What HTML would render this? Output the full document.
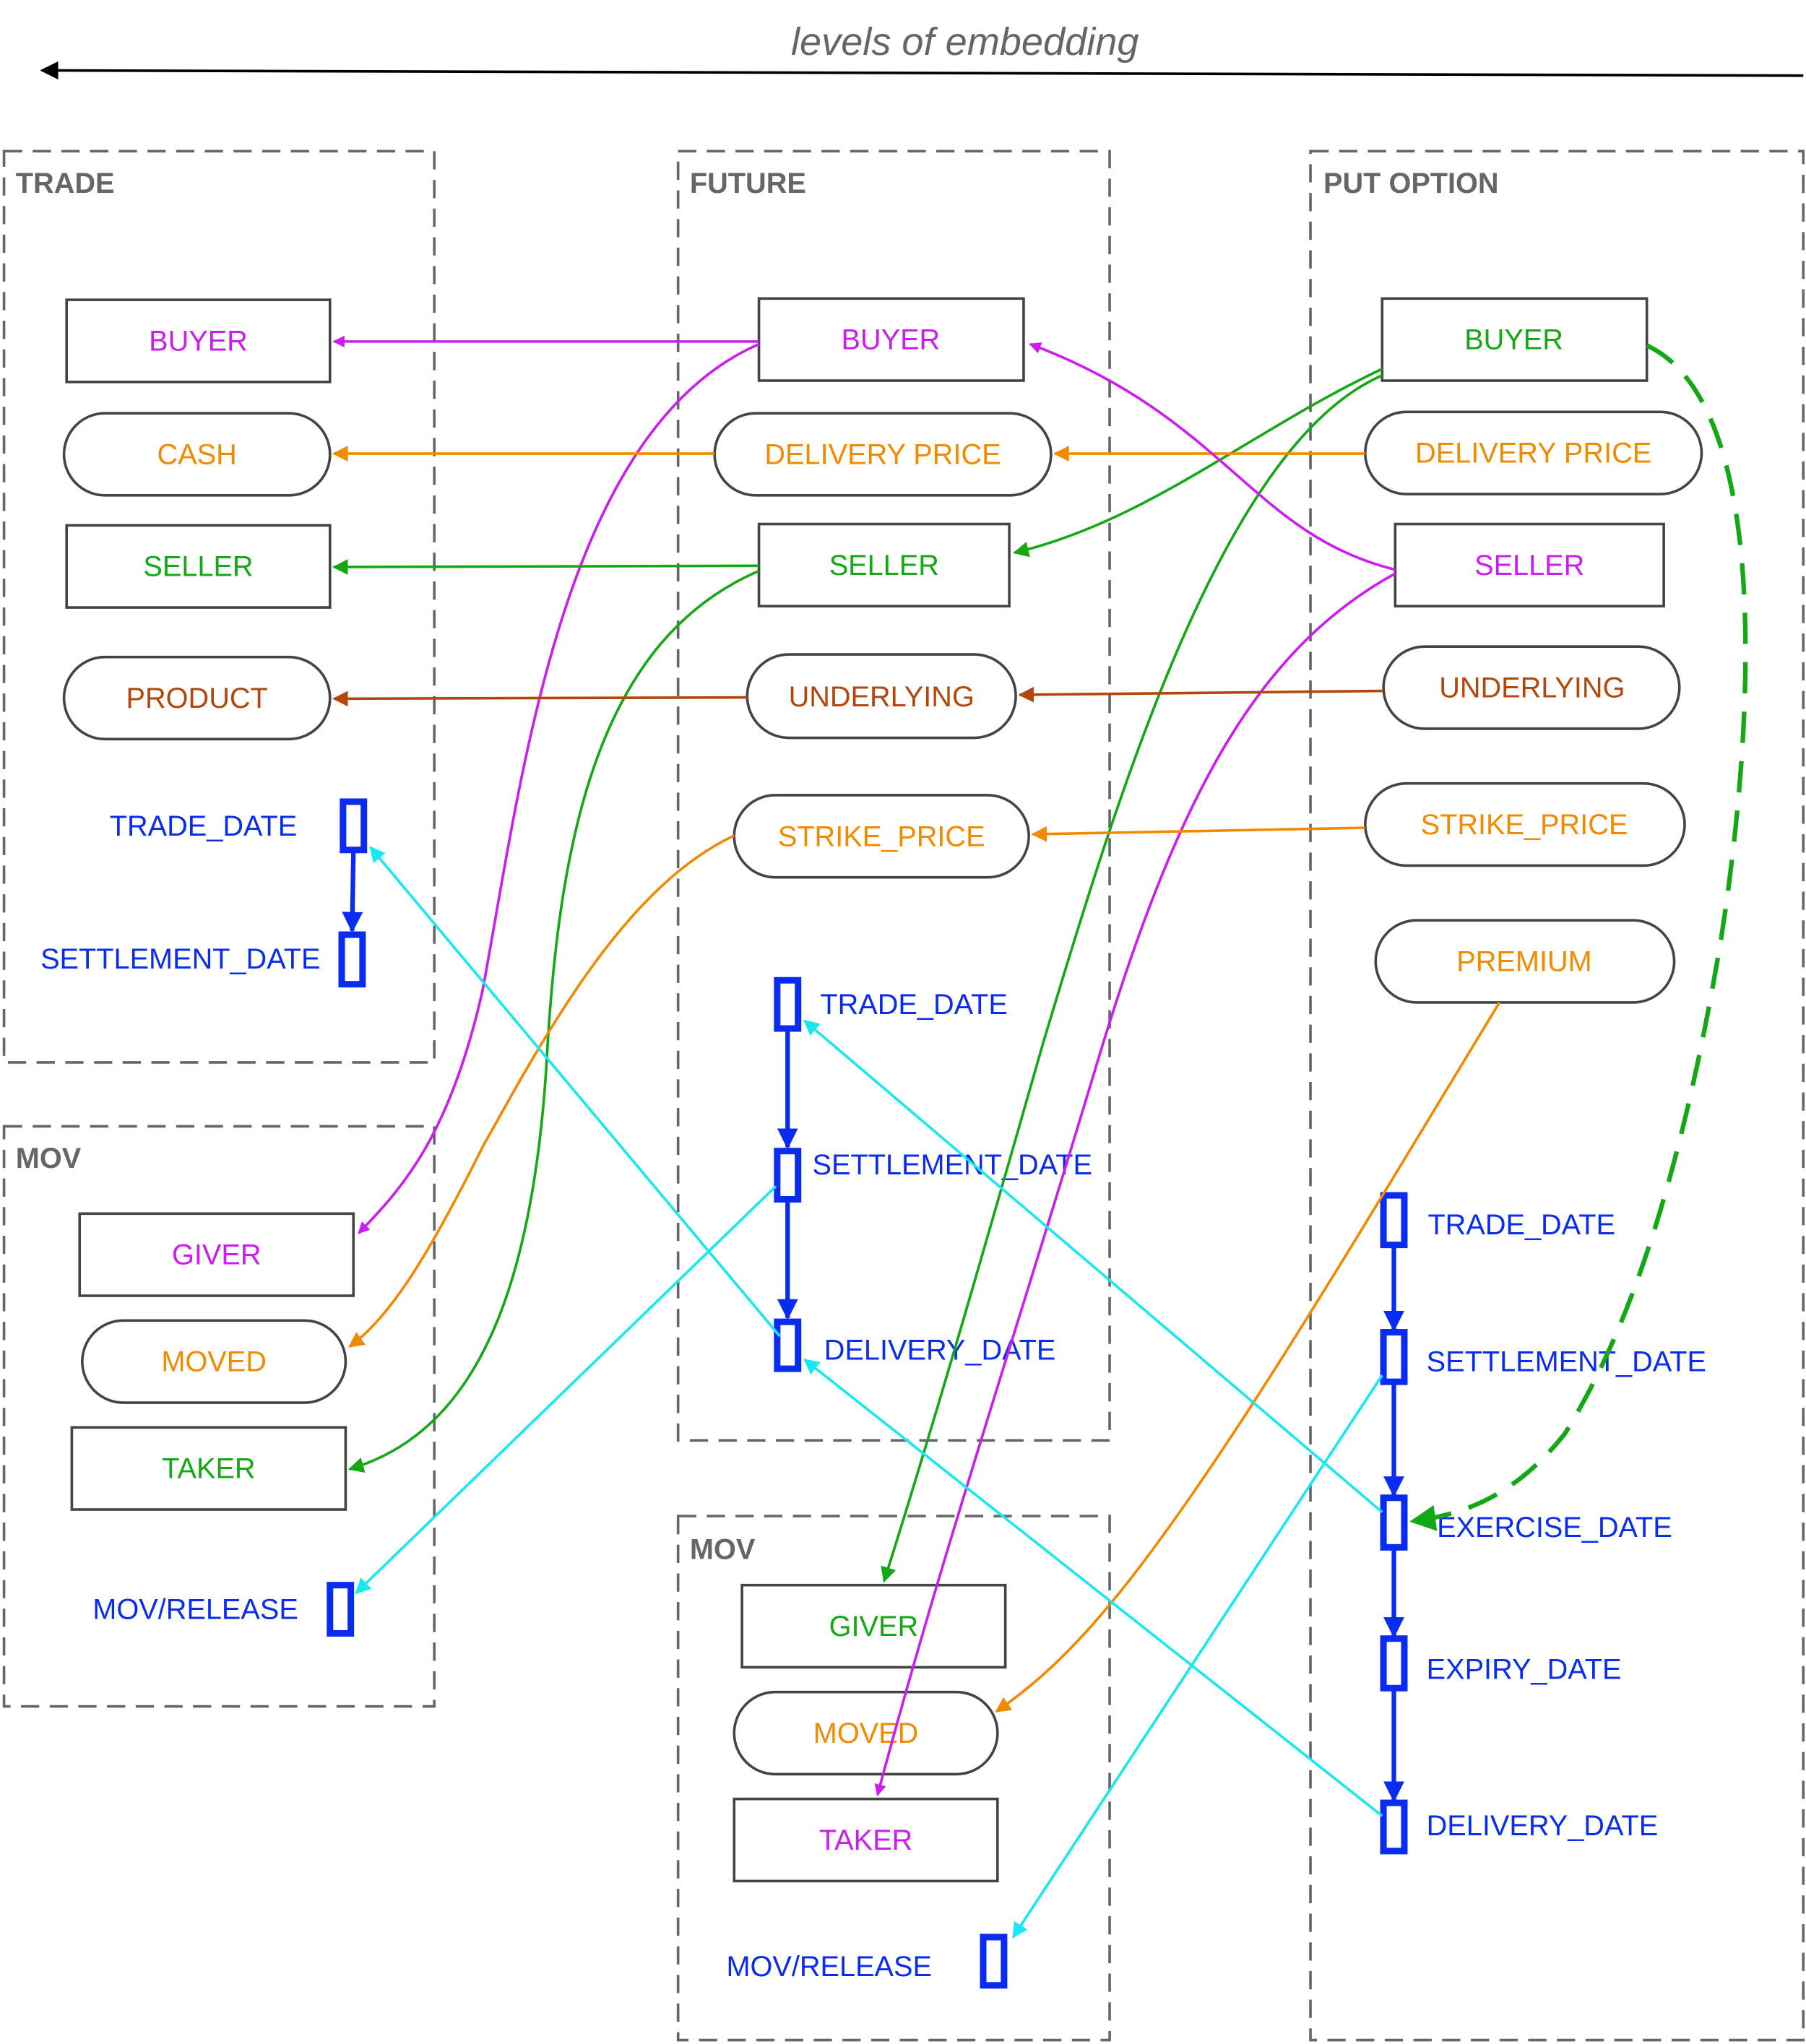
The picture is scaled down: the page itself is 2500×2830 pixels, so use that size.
<!DOCTYPE html>
<html><head><meta charset="utf-8"><style>
html,body{margin:0;padding:0;background:#fff;}
svg{display:block;}
text{font-family:"Liberation Sans",sans-serif;}
</style></head><body>
<svg width="2500" height="2830" viewBox="0 0 1385 1568" xmlns="http://www.w3.org/2000/svg">
<defs>
<marker id="mk" viewBox="0 0 10 10" refX="9" refY="5" markerWidth="7" markerHeight="7" orient="auto"><path d="M0,0 L10,5 L0,10 z" fill="#000"/></marker>
<marker id="mm" viewBox="0 0 10 10" refX="9" refY="5" markerWidth="9" markerHeight="9" orient="auto" markerUnits="userSpaceOnUse"><path d="M0,0 L10,5 L0,10 z" fill="#cc1cf0"/></marker>
<marker id="mo" viewBox="0 0 10 10" refX="9" refY="5" markerWidth="12" markerHeight="12" orient="auto" markerUnits="userSpaceOnUse"><path d="M0,0 L10,5 L0,10 z" fill="#f28a00"/></marker>
<marker id="mg" viewBox="0 0 10 10" refX="9" refY="5" markerWidth="12" markerHeight="12" orient="auto" markerUnits="userSpaceOnUse"><path d="M0,0 L10,5 L0,10 z" fill="#14a814"/></marker>
<marker id="mg2" viewBox="0 0 10 10" refX="9" refY="5" markerWidth="20" markerHeight="20" orient="auto" markerUnits="userSpaceOnUse"><path d="M0,0 L10,5 L0,10 z" fill="#14a814"/></marker>
<marker id="mb" viewBox="0 0 10 10" refX="9" refY="5" markerWidth="12" markerHeight="12" orient="auto" markerUnits="userSpaceOnUse"><path d="M0,0 L10,5 L0,10 z" fill="#b5460b"/></marker>
<marker id="mc" viewBox="0 0 10 10" refX="9" refY="5" markerWidth="12" markerHeight="12" orient="auto" markerUnits="userSpaceOnUse"><path d="M0,0 L10,5 L0,10 z" fill="#18e8f0"/></marker>
<marker id="mbl" viewBox="0 0 10 10" refX="9" refY="5" markerWidth="16" markerHeight="16" orient="auto" markerUnits="userSpaceOnUse"><path d="M0,0 L10,5 L0,10 z" fill="#0a2cf0"/></marker>
</defs>

<text x="740" y="42" font-size="30" font-style="italic" fill="#666" text-anchor="middle">levels of embedding</text>
<line x1="1383" y1="58" x2="32" y2="54" stroke="#000" stroke-width="2" marker-end="url(#mk)"/>

<g fill="none" stroke="#666" stroke-width="2" stroke-dasharray="14,8">
<rect x="3" y="116" width="330" height="699"/>
<rect x="3" y="864" width="330" height="445"/>
<rect x="520" y="116" width="331" height="989"/>
<rect x="520" y="1163" width="331" height="402"/>
<rect x="1005" y="116" width="378" height="1449"/>
</g>
<g font-size="22" font-weight="bold" fill="#666">
<text x="12" y="148">TRADE</text><text x="12" y="896">MOV</text>
<text x="529" y="148">FUTURE</text><text x="529" y="1196">MOV</text>
<text x="1015" y="148">PUT OPTION</text>
</g>

<g fill="#fff" stroke="#444" stroke-width="2">
<rect x="51" y="230" width="202" height="63"/>
<rect x="49" y="317" width="204" height="63" rx="31.5"/>
<rect x="51" y="403" width="202" height="63"/>
<rect x="49" y="504" width="204" height="63" rx="31.5"/>
<rect x="582" y="229" width="203" height="63"/>
<rect x="548" y="317" width="258" height="63" rx="31.5"/>
<rect x="582" y="402" width="192" height="63"/>
<rect x="573" y="502" width="206" height="64" rx="32"/>
<rect x="563" y="610" width="226" height="63" rx="31.5"/>
<rect x="1060" y="229" width="203" height="63"/>
<rect x="1047" y="316" width="258" height="63" rx="31.5"/>
<rect x="1070" y="402" width="206" height="63"/>
<rect x="1061" y="496" width="227" height="63" rx="31.5"/>
<rect x="1047" y="601" width="245" height="63" rx="31.5"/>
<rect x="1055" y="706" width="229" height="63" rx="31.5"/>
<rect x="61" y="931" width="210" height="63"/>
<rect x="63" y="1013" width="202" height="63" rx="31.5"/>
<rect x="55" y="1095" width="210" height="63"/>
<rect x="569" y="1216" width="202" height="63"/>
<rect x="563" y="1298" width="202" height="63" rx="31.5"/>
<rect x="563" y="1380" width="202" height="63"/>
</g>

<g font-size="22" text-anchor="middle">
<text x="152" y="269" fill="#cc1cf0">BUYER</text>
<text x="151" y="356" fill="#f28a00">CASH</text>
<text x="152" y="442" fill="#14a814">SELLER</text>
<text x="151" y="543" fill="#b5460b">PRODUCT</text>
<text x="683" y="268" fill="#cc1cf0">BUYER</text>
<text x="677" y="356" fill="#f28a00">DELIVERY PRICE</text>
<text x="678" y="441" fill="#14a814">SELLER</text>
<text x="676" y="542" fill="#b5460b">UNDERLYING</text>
<text x="676" y="649" fill="#f28a00">STRIKE_PRICE</text>
<text x="1161" y="268" fill="#14a814">BUYER</text>
<text x="1176" y="355" fill="#f28a00">DELIVERY PRICE</text>
<text x="1173" y="441" fill="#cc1cf0">SELLER</text>
<text x="1175" y="535" fill="#b5460b">UNDERLYING</text>
<text x="1169" y="640" fill="#f28a00">STRIKE_PRICE</text>
<text x="1169" y="745" fill="#f28a00">PREMIUM</text>
<text x="166" y="970" fill="#cc1cf0">GIVER</text>
<text x="164" y="1052" fill="#f28a00">MOVED</text>
<text x="160" y="1134" fill="#14a814">TAKER</text>
<text x="670" y="1255" fill="#14a814">GIVER</text>
<text x="664" y="1337" fill="#f28a00">MOVED</text>
<text x="664" y="1419" fill="#cc1cf0">TAKER</text>
</g>

<g font-size="22" fill="#0a2cf0">
<text x="84" y="641">TRADE_DATE</text>
<text x="31" y="743">SETTLEMENT_DATE</text>
<text x="629" y="778">TRADE_DATE</text>
<text x="623" y="901">SETTLEMENT_DATE</text>
<text x="632" y="1043">DELIVERY_DATE</text>
<text x="1095" y="947">TRADE_DATE</text>
<text x="1094" y="1052">SETTLEMENT_DATE</text>
<text x="1102" y="1179">EXERCISE_DATE</text>
<text x="1094" y="1288">EXPIRY_DATE</text>
<text x="1094" y="1408">DELIVERY_DATE</text>
<text x="71" y="1242">MOV/RELEASE</text>
<text x="557" y="1516">MOV/RELEASE</text>
</g>

<!-- blue timeline arrows -->
<g stroke="#0a2cf0" stroke-width="3.5" fill="none">
<line x1="271" y1="652" x2="270" y2="714" marker-end="url(#mbl)"/>
<line x1="604" y1="789" x2="604" y2="880" marker-end="url(#mbl)"/>
<line x1="604" y1="920" x2="604" y2="1011" marker-end="url(#mbl)"/>
<line x1="1069" y1="955" x2="1069" y2="1020" marker-end="url(#mbl)"/>
<line x1="1069" y1="1060" x2="1069" y2="1147" marker-end="url(#mbl)"/>
<line x1="1069" y1="1187" x2="1069" y2="1255" marker-end="url(#mbl)"/>
<line x1="1069" y1="1295" x2="1069" y2="1381" marker-end="url(#mbl)"/>
</g>
<g fill="#fff" stroke="#0a2cf0" stroke-width="5">
<rect x="263" y="615" width="16" height="37"/>
<rect x="262" y="717" width="16" height="38"/>
<rect x="596" y="752" width="16" height="37"/>
<rect x="596" y="883" width="16" height="37"/>
<rect x="596" y="1014" width="16" height="36"/>
<rect x="1061" y="917" width="16" height="38"/>
<rect x="1061" y="1022" width="16" height="38"/>
<rect x="1061" y="1149" width="16" height="38"/>
<rect x="1061" y="1257" width="16" height="38"/>
<rect x="1061" y="1383" width="16" height="37"/>
<rect x="253" y="1216" width="16" height="37"/>
<rect x="754" y="1486" width="16" height="37"/>
</g>

<!-- connectors -->
<g fill="none" stroke-width="2">
<path d="M582,262 L256,262" stroke="#cc1cf0" marker-end="url(#mm)"/>
<path d="M582,264 C430,330 400,600 370,760 C345,870 310,910 275,946" stroke="#cc1cf0" marker-end="url(#mm)"/>
<path d="M548,348 L256,348" stroke="#f28a00" marker-end="url(#mo)"/>
<path d="M582,434 L256,435" stroke="#14a814" marker-end="url(#mg)"/>
<path d="M582,438 C460,490 430,640 420,800 C410,1000 360,1100 268,1127" stroke="#14a814" marker-end="url(#mg)"/>
<path d="M573,535 L256,536" stroke="#b5460b" marker-end="url(#mb)"/>
<path d="M563,641 C480,680 420,790 370,880 C330,960 300,1010 268,1033" stroke="#f28a00" marker-end="url(#mo)"/>
<path d="M598,1025 L284,650" stroke="#18e8f0" marker-end="url(#mc)"/>
<path d="M595,910 L273,1222" stroke="#18e8f0" marker-end="url(#mc)"/>
<path d="M1060,283 C960,330 880,400 778,424" stroke="#14a814" marker-end="url(#mg)"/>
<path d="M1060,288 C940,340 860,600 800,800 C760,940 720,1080 678,1213" stroke="#14a814" marker-end="url(#mg)"/>
<path d="M1047,348 L809,348" stroke="#f28a00" marker-end="url(#mo)"/>
<path d="M1070,437 C960,410 940,320 790,264" stroke="#cc1cf0" marker-end="url(#mm)"/>
<path d="M1070,440 C960,500 900,620 840,820 C780,1020 720,1200 673,1377" stroke="#cc1cf0" marker-end="url(#mm)"/>
<path d="M1061,530 L782,533" stroke="#b5460b" marker-end="url(#mb)"/>
<path d="M1047,635 L792,640" stroke="#f28a00" marker-end="url(#mo)"/>
<path d="M1150,769 C1040,950 940,1120 860,1220 C820,1270 790,1295 764,1313" stroke="#f28a00" marker-end="url(#mo)"/>
<path d="M1060,1160 L617,783" stroke="#18e8f0" marker-end="url(#mc)"/>
<path d="M1060,1393 L617,1043" stroke="#18e8f0" marker-end="url(#mc)"/>
<path d="M1060,1055 L777,1486" stroke="#18e8f0" marker-end="url(#mc)"/>
<path d="M1263,265 C1360,310 1345,560 1320,720 C1290,900 1250,1020 1200,1100 C1160,1150 1120,1162 1083,1167" stroke="#14a814" stroke-width="3.5" stroke-dasharray="24,14" marker-end="url(#mg2)"/>
</g>
</svg>
</body></html>
